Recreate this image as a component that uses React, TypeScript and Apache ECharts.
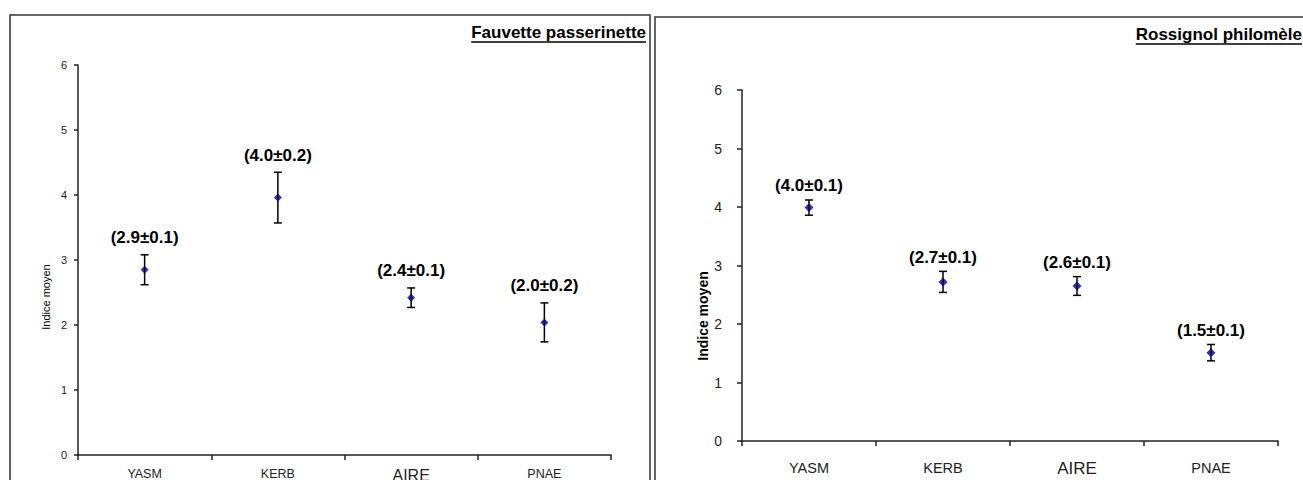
import React, { useEffect, useRef } from "react";
import * as echarts from "echarts";

const categories = ["YASM", "KERB", "AIRE", "PNAE"];

const fauvetteMean = [2.85, 3.96, 2.42, 2.04];
const fauvetteErr = [0.23, 0.39, 0.15, 0.3];
const fauvetteLabelMean = ["2.9", "4.0", "2.4", "2.0"];
const fauvetteLabelErr = ["0.1", "0.2", "0.1", "0.2"];

const rossignolMean = [3.99, 2.72, 2.65, 1.51];
const rossignolErr = [0.13, 0.18, 0.16, 0.14];
const rossignolLabelMean = ["4.0", "2.7", "2.6", "1.5"];
const rossignolLabelErr = ["0.1", "0.1", "0.1", "0.1"];

const titleLeft = "Fauvette passerinette";
const titleRight = "Rossignol philomèle";
const yName = "Indice moyen";

const FONT = "'Liberation Sans', Arial, sans-serif";

function measure(text: string, font: string): number {
  const c = document.createElement("canvas");
  const ctx = c.getContext("2d");
  if (!ctx) return text.length * 8;
  ctx.font = font;
  return ctx.measureText(text).width;
}

function errorSeries(
  xIdx: number,
  means: number[],
  errs: number[],
  lm: string[],
  le: string[],
  gap: number,
  cap: number
) {
  const labels = lm.map((m, i) => `(${m}±${le[i]})`);
  return {
    type: "custom",
    xAxisIndex: xIdx,
    yAxisIndex: xIdx,
    z: 2,
    data: categories.map((_, i) => [i, means[i], errs[i]]),
    encode: { x: 0, y: 1 },
    renderItem: (params: any, api: any) => {
      const i = api.value(0);
      const m = api.value(1);
      const e = api.value(2);
      const t = api.coord([i, m + e]);
      const b = api.coord([i, m - e]);
      const x = t[0];
      const ls = { stroke: "#000", lineWidth: 1.5 };
      return {
        type: "group",
        children: [
          { type: "line", shape: { x1: x, y1: t[1], x2: x, y2: b[1] }, style: ls },
          { type: "line", shape: { x1: x - cap, y1: t[1], x2: x + cap, y2: t[1] }, style: ls },
          { type: "line", shape: { x1: x - cap, y1: b[1], x2: x + cap, y2: b[1] }, style: ls },
          {
            type: "text",
            style: {
              text: labels[params.dataIndex],
              x: x,
              y: t[1] - gap,
              align: "center",
              verticalAlign: "middle",
              textAlign: "center",
              textVerticalAlign: "middle",
              fontSize: 17,
              fontWeight: "bold",
              fontFamily: FONT,
              fill: "#000",
            },
          },
        ],
      };
    },
  };
}

export default function App() {
  const ref = useRef<HTMLDivElement>(null);

  useEffect(() => {
    document.body.style.margin = "0";
    if (!ref.current) return;
    const chart = echarts.init(ref.current, null, { renderer: "svg" });

    const titleFont = `bold 17px ${FONT}`;
    const wL = measure(titleLeft, titleFont);
    const wR = measure(titleRight, titleFont);
    const tlRight = 646;
    const trRight = 1302;

    const yAxisBase = (fs: number, margin: number, tick: number) => ({
      type: "value",
      min: 0,
      max: 6,
      interval: 1,
      splitLine: { show: false },
      axisLine: { show: true, lineStyle: { color: "#222", width: 1.5 } },
      axisTick: { show: true, length: tick, lineStyle: { color: "#222", width: 1.5 } },
      axisLabel: { fontSize: fs, color: "#222", margin, fontFamily: FONT },
    });

    const xAxisBase = (gridIndex: number, margin: number, s: number, b: number, tick: number) => ({
      type: "category",
      gridIndex,
      data: categories,
      boundaryGap: true,
      axisLine: { show: true, lineStyle: { color: "#222", width: 1.5 } },
      axisTick: { show: true, length: tick, lineStyle: { color: "#222", width: 1.5 } },
      axisLabel: {
        margin,
        interval: 0,
        formatter: (v: string) => (v === "AIRE" ? `{b|${v}}` : `{s|${v}}`),
        rich: {
          s: { fontSize: s, color: "#222", fontFamily: FONT },
          b: { fontSize: b, color: "#222", fontFamily: FONT },
        },
      },
    });

    const option: any = {
      animation: false,
      backgroundColor: "#fff",
      grid: [
        { left: 78, top: 65, width: 533, height: 390, containLabel: false, outerBoundsMode: "none" },
        { left: 742, top: 90, width: 536, height: 351, containLabel: false, outerBoundsMode: "none" },
      ],
      xAxis: [xAxisBase(0, 12, 12.5, 16, 5), xAxisBase(1, 19, 14.5, 17, 5)],
      yAxis: [
        { ...yAxisBase(11, 11, 4), gridIndex: 0 },
        { ...yAxisBase(14, 20, 5), gridIndex: 1 },
      ],
      series: [
        errorSeries(0, fauvetteMean, fauvetteErr, fauvetteLabelMean, fauvetteLabelErr, 17, 4),
        errorSeries(1, rossignolMean, rossignolErr, rossignolLabelMean, rossignolLabelErr, 14, 4),
        {
          type: "scatter",
          xAxisIndex: 0,
          yAxisIndex: 0,
          z: 3,
          symbol: "diamond",
          symbolSize: [8, 8],
          itemStyle: { color: "#000080" },
          data: fauvetteMean,
        },
        {
          type: "scatter",
          xAxisIndex: 1,
          yAxisIndex: 1,
          z: 3,
          symbol: "diamond",
          symbolSize: [9, 9],
          itemStyle: { color: "#000080" },
          data: rossignolMean,
        },
      ],
      graphic: [
        {
          type: "rect",
          shape: { x: 10, y: 15, width: 640, height: 480 },
          style: { fill: "none", stroke: "#333", lineWidth: 1.5 },
          silent: true,
        },
        {
          type: "rect",
          shape: { x: 655, y: 17, width: 660, height: 480 },
          style: { fill: "none", stroke: "#333", lineWidth: 1.5 },
          silent: true,
        },
        {
          type: "text",
          x: tlRight,
          y: 32,
          style: {
            text: titleLeft,
            align: "right",
            verticalAlign: "middle",
            textAlign: "right",
            textVerticalAlign: "middle",
            font: titleFont,
            fill: "#000",
          },
        },
        {
          type: "line",
          shape: { x1: tlRight - wL, y1: 42, x2: tlRight, y2: 42 },
          style: { stroke: "#000", lineWidth: 1.5 },
        },
        {
          type: "text",
          x: trRight,
          y: 34,
          style: {
            text: titleRight,
            align: "right",
            verticalAlign: "middle",
            textAlign: "right",
            textVerticalAlign: "middle",
            font: titleFont,
            fill: "#000",
          },
        },
        {
          type: "line",
          shape: { x1: trRight - wR, y1: 44, x2: trRight, y2: 44 },
          style: { stroke: "#000", lineWidth: 1.5 },
        },
        {
          type: "text",
          x: 46,
          y: 297,
          rotation: Math.PI / 2,
          style: {
            text: yName,
            align: "center",
            verticalAlign: "middle",
            textAlign: "center",
            textVerticalAlign: "middle",
            font: `11px ${FONT}`,
            fill: "#000",
          },
        },
        {
          type: "text",
          x: 703,
          y: 316,
          rotation: Math.PI / 2,
          style: {
            text: yName,
            align: "center",
            verticalAlign: "middle",
            textAlign: "center",
            textVerticalAlign: "middle",
            font: `bold 14px ${FONT}`,
            fill: "#000",
          },
        },
      ],
    };

    chart.setOption(option);
    return () => chart.dispose();
  }, []);

  return <div ref={ref} style={{ width: 1303, height: 480 }} />;
}
